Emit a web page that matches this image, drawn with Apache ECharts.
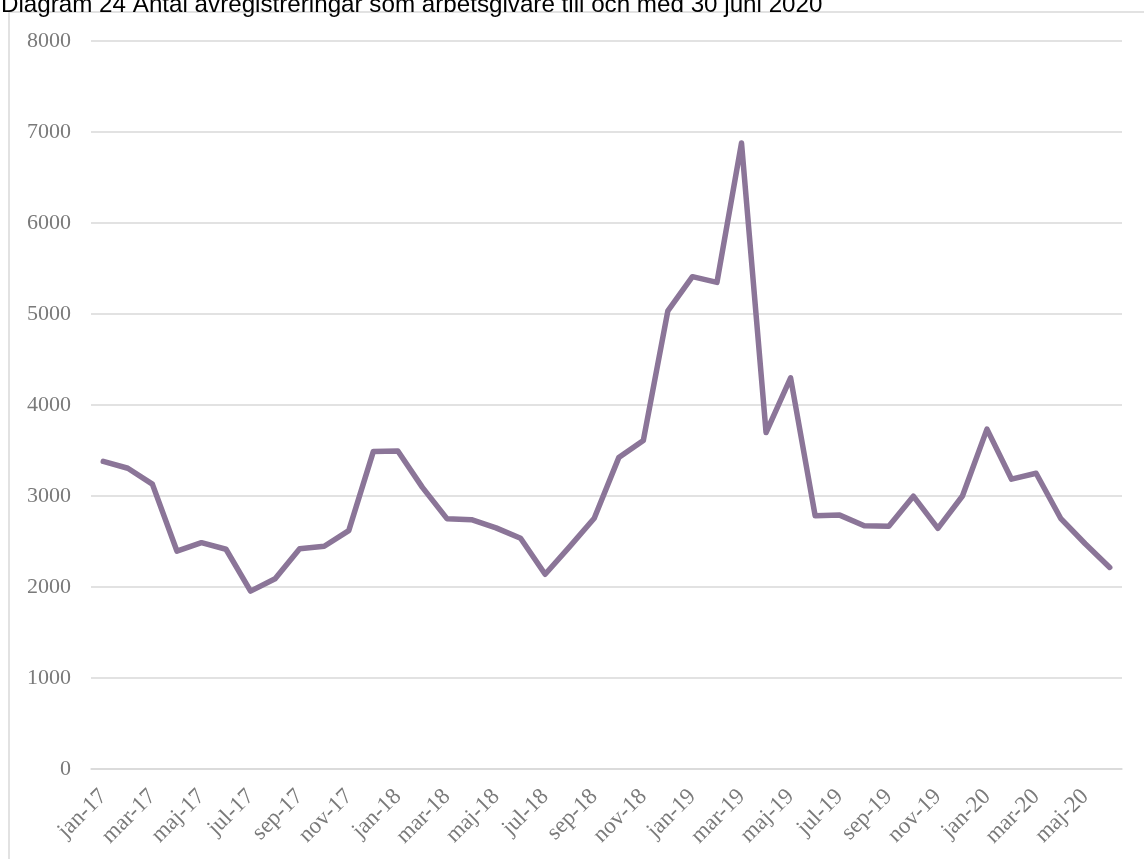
<!DOCTYPE html>
<html>
<head>
<meta charset="utf-8">
<script src="https://cdn.jsdelivr.net/npm/echarts@6/dist/echarts.min.js"></script>
<style>
  html, body { margin: 0; padding: 0; background: #fff; }
  #chart { width: 1144px; height: 859px; }
</style>
</head>
<body>
<div id="chart"></div>
<script>
// månader jan-17 .. jun-20
const months = [
  'jan-17','feb-17','mar-17','apr-17','maj-17','jun-17','jul-17','aug-17','sep-17','okt-17','nov-17','dec-17',
  'jan-18','feb-18','mar-18','apr-18','maj-18','jun-18','jul-18','aug-18','sep-18','okt-18','nov-18','dec-18',
  'jan-19','feb-19','mar-19','apr-19','maj-19','jun-19','jul-19','aug-19','sep-19','okt-19','nov-19','dec-19',
  'jan-20','feb-20','mar-20','apr-20','maj-20','jun-20'
]

// antal avregistreringar per månad
const avregistreringar = [
  3380, 3305, 3130, 2395, 2487, 2415, 1955, 2090, 2420, 2448, 2619, 3488,
  3495, 3095, 2751, 2740, 2650, 2535, 2140, 2443, 2755, 3422, 3609, 5035,
  5410, 5348, 6880, 3697, 4298, 2784, 2790, 2672, 2668, 2998, 2645, 3000,
  3735, 3185, 3250, 2755, 2475, 2215
]

const yTicks = { min: 0, max: 8000, interval: 1000 }

const title = 'Diagram 24 Antal avregistreringar som arbetsgivare till och med 30 juni 2020'

const grey = '#d9d9d9'
const textGrey = '#7a7a7a'
const serif = '"Liberation Serif", "DejaVu Serif", serif'

const myChart = echarts.init(document.getElementById('chart'))

myChart.setOption({
  animation: false,
  backgroundColor: '#fff',
  title: {
    text: title,
    left: 0,
    top: -7,
    padding: [0, 0, 0, 1],
    textStyle: {
      fontFamily: '"Liberation Sans", Arial, sans-serif',
      fontWeight: 'normal',
      fontSize: 24.2,
      color: '#000'
    }
  },
  graphic: [{
    type: 'rect',
    z: -1,
    shape: { x: 9, y: 12, width: 1160, height: 880 },
    style: { fill: 'none', stroke: grey, lineWidth: 1.5 }
  }],
  grid: { left: 91, right: 22, top: 41, bottom: 90 },
  xAxis: {
    type: 'category',
    data: months,
    boundaryGap: true,
    axisLine: { lineStyle: { color: grey, width: 1.5 } },
    axisTick: { interval: 1, length: 6, lineStyle: { color: grey, width: 1.5 } },
    axisLabel: {
      interval: 1,
      rotate: 45,
      margin: 24,
      fontFamily: serif,
      fontSize: 23,
      color: textGrey
    }
  },
  yAxis: {
    type: 'value',
    min: yTicks.min,
    max: yTicks.max,
    interval: yTicks.interval,
    axisLine: { show: false },
    axisTick: { show: false },
    splitLine: { lineStyle: { color: grey, width: 1.5 } },
    axisLabel: {
      margin: 20,
      fontFamily: serif,
      fontSize: 22,
      color: textGrey,
      formatter: v => String(v)
    }
  },
  series: [{
    type: 'line',
    data: avregistreringar,
    symbol: 'none',
    lineStyle: { color: '#8b7598', width: 5.5, cap: 'round', join: 'round' }
  }]
})
</script>
</body>
</html>
